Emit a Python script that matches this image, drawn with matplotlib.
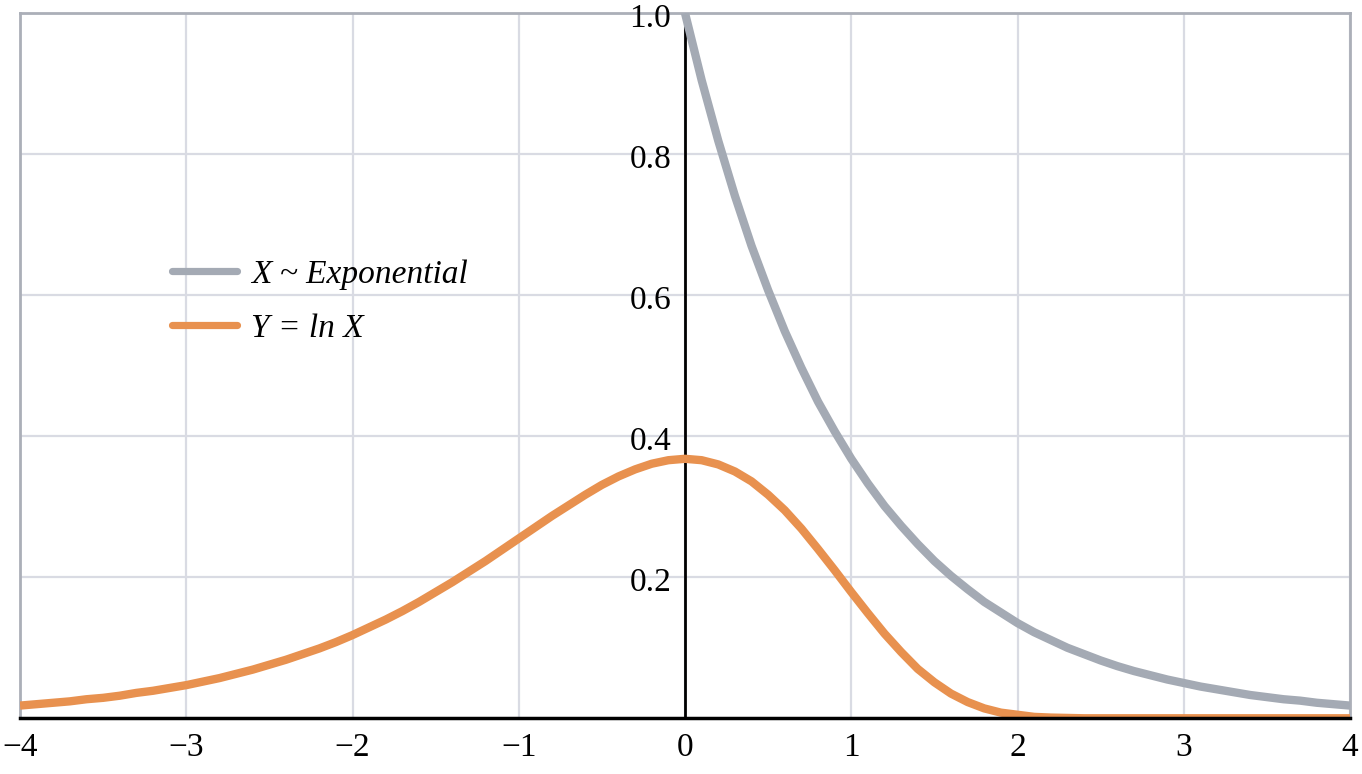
import matplotlib.pyplot as plt
import numpy as np

# values
x_exp = np.round(np.arange(0, 4.01, 0.1), 1)
y_exp = np.array([1.000, 0.905, 0.819, 0.741, 0.670, 0.607, 0.549, 0.497, 0.449, 0.407,
                  0.368, 0.333, 0.301, 0.273, 0.247, 0.223, 0.202, 0.183, 0.165, 0.150,
                  0.135, 0.122, 0.111, 0.100, 0.091, 0.082, 0.074, 0.067, 0.061, 0.055,
                  0.050, 0.045, 0.041, 0.037, 0.033, 0.030, 0.027, 0.025, 0.022, 0.020,
                  0.018])

x_ln = np.round(np.arange(-4, 4.01, 0.1), 1)
y_ln = np.array([0.018, 0.020, 0.022, 0.024, 0.027, 0.029, 0.032, 0.036, 0.039, 0.043,
                 0.047, 0.052, 0.057, 0.063, 0.069, 0.076, 0.083, 0.091, 0.099, 0.108,
                 0.118, 0.129, 0.140, 0.152, 0.165, 0.179, 0.193, 0.208, 0.223, 0.239,
                 0.255, 0.271, 0.287, 0.302, 0.317, 0.331, 0.343, 0.353, 0.361, 0.366,
                 0.368, 0.366, 0.360, 0.350, 0.336, 0.317, 0.295, 0.269, 0.240, 0.210,
                 0.179, 0.149, 0.120, 0.094, 0.070, 0.051, 0.035, 0.023, 0.014, 0.008,
                 0.005, 0.002, 0.001, 0.0005, 0.0, 0.0, 0.0, 0.0, 0.0, 0.0,
                 0.0, 0.0, 0.0, 0.0, 0.0, 0.0, 0.0, 0.0, 0.0, 0.0,
                 0.0])

xticks = [-4, -3, -2, -1, 0, 1, 2, 3, 4]
xtick_labels = ['\u22124', '\u22123', '\u22122', '\u22121', '0', '1', '2', '3', '4']
yticks = [0.2, 0.4, 0.6, 0.8, 1.0]
ytick_labels = ['0.2', '0.4', '0.6', '0.8', '1.0']

plt.rcParams['font.family'] = ['Liberation Serif', 'DejaVu Serif']

fig = plt.figure(figsize=(13.62, 7.74), dpi=100)
ax = fig.add_axes([0.0147, 0.072, 0.9765, 0.911])

grey = '#a4aab4'
orange = '#e8914f'

ax.plot(x_exp, y_exp, color=grey, lw=6, solid_capstyle='butt', label='X ~ Exponential', zorder=3)
ax.plot(x_ln, y_ln, color=orange, lw=6, solid_capstyle='butt', label='Y = ln X', zorder=4)

ax.set_xlim(-4, 4)
ax.set_ylim(0, 1.0)
ax.set_xticks(xticks)
ax.set_xticklabels(xtick_labels, fontsize=24)
ax.set_yticks(yticks)
ax.set_yticklabels([])
ax.tick_params(length=0, pad=10)
ax.tick_params(axis='y', left=False)
ax.grid(True, color='#d9dbe3', lw=1.6)
ax.set_axisbelow(True)
for s in ax.spines.values():
    s.set_color('#abafb8')
    s.set_linewidth(2)

ax.axvline(0, color='black', lw=2, zorder=2)
ax.axhline(0, color='black', lw=2.5, zorder=5, clip_on=False)

for y, lab in zip(yticks, ytick_labels):
    ax.annotate(lab, (0, y), xytext=(-10, -4), textcoords='offset points',
                ha='right', va='center', fontsize=24)

leg = ax.legend(loc='upper left', bbox_to_anchor=(0.1145, 0.651), frameon=False,
                borderpad=0, borderaxespad=0,
                handlelength=1.95, handletextpad=0.42, labelspacing=0.7,
                prop={'size': 24, 'style': 'italic'})
for h in leg.get_lines():
    h.set_linewidth(5.2)
    h.set_solid_capstyle('round')

fig.savefig('out.png', dpi=100)
